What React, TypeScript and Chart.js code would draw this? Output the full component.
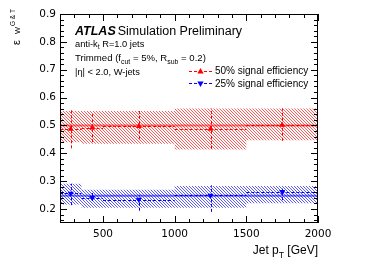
import React, { useEffect, useRef } from "react";
import { Chart, registerables } from "chart.js";

Chart.register(...registerables);

// ---------------- data ----------------
const binEdges = [200, 350, 500, 1000, 1500, 2000];
const binCenters = [275, 425, 750, 1250, 1750];
const xTickValues = [500, 1000, 1500, 2000];
const yTickValues = [0.2, 0.3, 0.4, 0.5, 0.6, 0.7, 0.8, 0.9];

const eff50 = [0.487, 0.492, 0.497, 0.487, 0.502];
const eff50StatHigh = [0.556, 0.546, 0.552, 0.561, 0.561];
const eff50StatLow = [0.418, 0.44, 0.452, 0.416, 0.445];
const eff50SystHigh = [0.552, 0.552, 0.552, 0.561, 0.561];
const eff50SystLow = [0.44, 0.434, 0.434, 0.414, 0.447];
const eff50Fit = 0.5;

const eff25 = [0.256, 0.241, 0.234, 0.249, 0.262];
const eff25StatHigh = [0.291, 0.262, 0.251, 0.285, 0.273];
const eff25StatLow = [0.214, 0.229, 0.194, 0.19, 0.232];
const eff25SystHigh = [0.291, 0.269, 0.269, 0.283, 0.283];
const eff25SystLow = [0.216, 0.205, 0.205, 0.205, 0.221];
const eff25Fit = 0.248;

const legendLabels = ["50% signal efficiency", "25% signal efficiency"];

const FONT = "'Liberation Sans', Arial, sans-serif";
const TICKFONT = "'DejaVu Sans', sans-serif";

// histogram-style outline: each bin contributes its two edges at the bin value
function stepData(vals: number[]) {
  const out: { x: number; y: number }[] = [];
  vals.forEach((v, i) => {
    out.push({ x: binEdges[i], y: v });
    out.push({ x: binEdges[i + 1], y: v });
  });
  return out;
}

function makeHatch(ctx: CanvasRenderingContext2D, color: string) {
  const n = 3;
  const c = document.createElement("canvas");
  c.width = n;
  c.height = n;
  const g = c.getContext("2d")!;
  g.fillStyle = color;
  for (let i = 0; i < n; i++) g.fillRect(i, i, 1, 1);
  return ctx.createPattern(c, "repeat");
}

function drawRich(
  ctx: CanvasRenderingContext2D,
  x: number,
  y: number,
  parts: [string, string][],
  size: number,
  family: string,
  measureOnly = false
) {
  let cx = x;
  for (const [t, kind] of parts) {
    const s = kind === "n" ? size : size * 0.72;
    const dy = kind === "sub" ? size * 0.3 : kind === "sup" ? -size * 0.4 : 0;
    ctx.font = `${s}px ${family}`;
    if (!measureOnly) ctx.fillText(t, cx, y + dy);
    cx += ctx.measureText(t).width;
  }
  return cx - x;
}

function tri(ctx: CanvasRenderingContext2D, x: number, y: number, r: number, down: boolean) {
  ctx.beginPath();
  const s = down ? -1 : 1;
  ctx.moveTo(x, y - s * r);
  ctx.lineTo(x - r * 0.9, y + s * r * 0.6);
  ctx.lineTo(x + r * 0.9, y + s * r * 0.6);
  ctx.closePath();
  ctx.fill();
}

const errorBarPlugin = {
  id: "errbars",
  beforeDatasetDraw(chart: any, args: any) {
    const ds: any = chart.data.datasets[args.index];
    if (!ds.errHigh) return;
    const { ctx, chartArea } = chart;
    const x = chart.scales.x;
    const y = chart.scales.y;
    ctx.save();
    ctx.beginPath();
    ctx.rect(chartArea.left, chartArea.top, chartArea.right - chartArea.left, chartArea.bottom - chartArea.top);
    ctx.clip();
    ctx.strokeStyle = ds.errColor;
    ctx.lineWidth = 1;
    ctx.setLineDash([3, 2]);
    ctx.beginPath();
    ds.values.forEach((v: number, i: number) => {
      const py = Math.round(y.getPixelForValue(v)) + 0.5;
      const px = Math.round(x.getPixelForValue(binCenters[i])) + 0.5;
      ctx.moveTo(x.getPixelForValue(binEdges[i]), py);
      ctx.lineTo(x.getPixelForValue(binEdges[i + 1]), py);
      ctx.moveTo(px, y.getPixelForValue(ds.errLow[i]));
      ctx.lineTo(px, y.getPixelForValue(ds.errHigh[i]));
    });
    ctx.stroke();
    ctx.restore();
  },
};

const decorPlugin = {
  id: "decor",
  afterDraw(chart: any) {
    const { ctx, chartArea } = chart;
    const { left, right, top, bottom } = chartArea;
    const x = chart.scales.x;
    const y = chart.scales.y;
    ctx.save();
    // frame
    ctx.strokeStyle = "#000";
    ctx.lineWidth = 1;
    ctx.setLineDash([]);
    ctx.strokeRect(left + 0.5, top + 0.5, right - left - 1, bottom - top - 1);
    // ticks
    ctx.beginPath();
    for (let v = 0.16; v < 0.9001; v += 0.02) {
      const major = Math.abs(v * 10 - Math.round(v * 10)) < 1e-6;
      const len = major ? 7 : 4;
      const py = Math.round(y.getPixelForValue(v)) + 0.5;
      ctx.moveTo(left, py);
      ctx.lineTo(left + len, py);
      ctx.moveTo(right, py);
      ctx.lineTo(right - len, py);
    }
    for (let v = 300; v <= 2000; v += 100) {
      const major = v % 500 === 0;
      const len = major ? 7 : 4;
      const px = Math.round(x.getPixelForValue(v)) + 0.5;
      ctx.moveTo(px, bottom);
      ctx.lineTo(px, bottom - len);
      ctx.moveTo(px, top);
      ctx.lineTo(px, top + len);
    }
    ctx.stroke();

    // texts
    ctx.fillStyle = "#000";
    ctx.textBaseline = "alphabetic";
    ctx.textAlign = "left";
    ctx.font = `italic bold 12.5px ${FONT}`;
    ctx.fillText("ATLAS", 75, 34.5);
    const aw = ctx.measureText("ATLAS").width;
    ctx.font = `12.5px ${FONT}`;
    ctx.fillText("Simulation Preliminary", 75 + aw + 2, 34.5);

    drawRich(ctx, 75, 46.5, [["anti-k", "n"], ["t", "sub"], [" R=1.0 jets", "n"]], 9.3, FONT);
    drawRich(
      ctx,
      75,
      61,
      [["Trimmed (f", "n"], ["cut", "sub"], [" = 5%, R", "n"], ["sub", "sub"], [" = 0.2)", "n"]],
      9.6,
      FONT
    );
    drawRich(ctx, 75, 75, [["|η| < 2.0, W-jets", "n"]], 9.3, FONT);

    // legend
    const legY = [70.7, 83.3];
    const legCol = ["#ff0000", "#0000ff"];
    legY.forEach((ly, i) => {
      ctx.strokeStyle = legCol[i];
      ctx.fillStyle = legCol[i];
      ctx.setLineDash([3, 2]);
      ctx.beginPath();
      ctx.moveTo(189, Math.round(ly) + 0.5);
      ctx.lineTo(212, Math.round(ly) + 0.5);
      ctx.stroke();
      tri(ctx, 200.5, Math.round(ly) + 0.5, 3.5, i === 1);
      ctx.fillStyle = "#000";
      ctx.font = `10px ${FONT}`;
      ctx.textBaseline = "middle";
      ctx.fillText(legendLabels[i], 215, ly + 0.5);
      ctx.textBaseline = "alphabetic";
    });
    ctx.setLineDash([]);

    // x title (right aligned)
    const xParts: [string, string][] = [["Jet p", "n"], ["T", "sub"], [" [GeV]", "n"]];
    const w = drawRich(ctx, 0, 0, xParts, 12, FONT, true);
    drawRich(ctx, right - w, 254, xParts, 12, FONT);

    // y title (rotated, top aligned)
    ctx.save();
    ctx.translate(19.5, 45);
    ctx.rotate(-Math.PI / 2);
    ctx.font = `11px ${FONT}`;
    ctx.fillText("ε", 0, 0);
    ctx.font = `7.5px ${FONT}`;
    ctx.fillText("W", 11, 0.5);
    ctx.font = `6.5px ${FONT}`;
    ctx.fillText("G & T", 19, -4.5);
    ctx.restore();

    ctx.restore();
  },
};

export default function App() {
  const ref = useRef<HTMLCanvasElement>(null);
  useEffect(() => {
    const canvas = ref.current!;
    const ctx = canvas.getContext("2d")!;
    const redHatch = makeHatch(ctx, "rgba(255,90,90,1)");
    const blueHatch = makeHatch(ctx, "rgba(90,90,255,1)");
    const clear = "rgba(0,0,0,0)";
    const band = (vals: number[], fill: any, bg: any) => ({
      data: stepData(vals),
      borderWidth: 0,
      borderColor: clear,
      pointRadius: 0,
      tension: 0,
      fill,
      backgroundColor: bg,
      order: 5,
    });
    const chart = new Chart(canvas, {
      type: "line",
      data: {
        datasets: [
          band(eff50SystHigh, "+1", redHatch),
          band(eff50SystLow, false, clear),
          band(eff25SystHigh, "+1", blueHatch),
          band(eff25SystLow, false, clear),
          {
            data: [
              { x: binEdges[0], y: eff50Fit },
              { x: binEdges[binEdges.length - 1], y: eff50Fit },
            ],
            borderColor: "rgba(255,0,0,0.55)",
            borderWidth: 2,
            pointRadius: 0,
            fill: false,
            order: 3,
          },
          {
            data: [
              { x: binEdges[0], y: eff25Fit },
              { x: binEdges[binEdges.length - 1], y: eff25Fit },
            ],
            borderColor: "rgba(0,0,255,0.55)",
            borderWidth: 2,
            pointRadius: 0,
            fill: false,
            order: 3,
          },
          {
            data: binCenters.map((x, i) => ({ x, y: eff50[i] })),
            showLine: false,
            pointStyle: "triangle",
            pointRadius: 3.5,
            backgroundColor: "#ff0000",
            borderColor: "#ff0000",
            borderWidth: 0,
            order: 1,
            values: eff50,
            errHigh: eff50StatHigh,
            errLow: eff50StatLow,
            errColor: "#ff0000",
          } as any,
          {
            data: binCenters.map((x, i) => ({ x, y: eff25[i] })),
            showLine: false,
            pointStyle: "triangle",
            pointRotation: 180,
            pointRadius: 3.5,
            backgroundColor: "#0000ff",
            borderColor: "#0000ff",
            borderWidth: 0,
            order: 1,
            values: eff25,
            errHigh: eff25StatHigh,
            errLow: eff25StatLow,
            errColor: "#0000ff",
          } as any,
        ] as any,
      },
      options: {
        animation: false,
        responsive: true,
        maintainAspectRatio: false,
        layout: { padding: { left: 8, top: 14, right: 56, bottom: 0 } },
        plugins: {
          legend: { display: false },
          tooltip: { enabled: false },
        },
        scales: {
          x: {
            type: "linear",
            min: 200,
            max: 2000,
            afterBuildTicks: (s: any) => {
              s.ticks = xTickValues.map((v) => ({ value: v }));
            },
            afterFit: (s: any) => {
              s.height = 45;
            },
            ticks: {
              autoSkip: false,
              maxRotation: 0,
              padding: 5,
              color: "#000",
              font: { family: TICKFONT, size: 10.5 },
              callback: (v: any) => String(v),
            },
            grid: { display: false, drawTicks: false },
            border: { display: false },
          },
          y: {
            type: "linear",
            min: 0.15,
            max: 0.9,
            afterBuildTicks: (s: any) => {
              s.ticks = yTickValues.map((v) => ({ value: v }));
            },
            afterFit: (s: any) => {
              s.width = 52;
            },
            ticks: {
              autoSkip: false,
              padding: 4,
              color: "#000",
              font: { family: TICKFONT, size: 10.5 },
              callback: (v: any) => Number(v).toFixed(1),
            },
            grid: { display: false, drawTicks: false },
            border: { display: false },
          },
        },
      } as any,
      plugins: [errorBarPlugin, decorPlugin],
    });
    return () => chart.destroy();
  }, []);
  return (
    <div style={{ position: "fixed", left: 0, top: 0, width: 374, height: 268, background: "#fff" }}>
      <canvas ref={ref} />
    </div>
  );
}
